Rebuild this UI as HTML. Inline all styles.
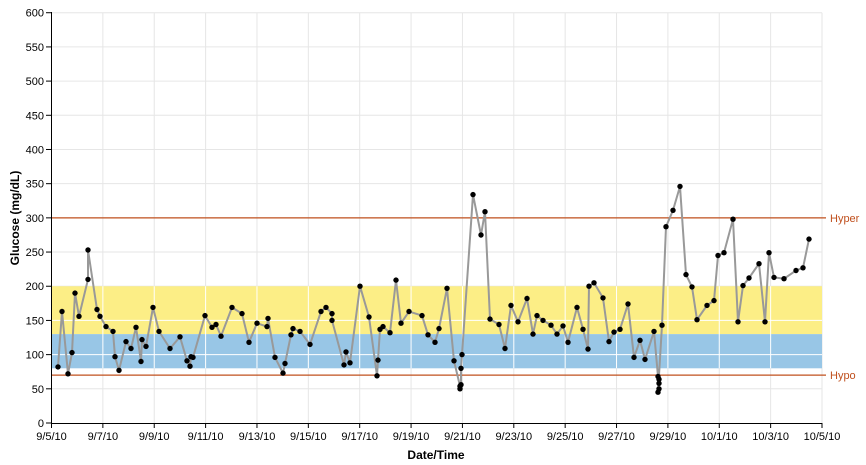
<!DOCTYPE html>
<html><head><meta charset="utf-8"><style>
body{margin:0;background:#fff;}
svg{display:block;font-family:"Liberation Sans",Arial,sans-serif;}
</style></head><body>
<svg id="s" width="866" height="465" xmlns="http://www.w3.org/2000/svg"></svg>
<script>
const s=document.getElementById('s');
const X0=51.5,X1=822,Y=v=>423-v*0.6838;
const dx=(X1-X0)/30;
let h='';
// grid
for(let v=50;v<=600;v+=50)h+=`<line x1="${X0}" x2="${X1}" y1="${Y(v)}" y2="${Y(v)}" stroke="#e6e6e6"/>`;
for(let d=2;d<=30;d+=2)h+=`<line x1="${X0+d*dx}" x2="${X0+d*dx}" y1="${Y(600)}" y2="423" stroke="#e6e6e6"/>`;
// bands
h+=`<rect x="${X0}" y="${Y(200)}" width="${X1-X0}" height="${Y(130)-Y(200)}" fill="#fcee86"/>`;
h+=`<rect x="${X0}" y="${Y(130)}" width="${X1-X0}" height="${Y(80)-Y(130)}" fill="#98c6e6"/>`;
// white grid over bands
for(let v of [100,150])h+=`<line x1="${X0}" x2="${X1}" y1="${Y(v)}" y2="${Y(v)}" stroke="#fff"/>`;
for(let d=2;d<30;d+=2)h+=`<line x1="${X0+d*dx}" x2="${X0+d*dx}" y1="${Y(200)}" y2="${Y(80)}" stroke="#fff"/>`;
// hyper/hypo
h+=`<line x1="${X0}" x2="826" y1="${Y(300)}" y2="${Y(300)}" stroke="#c0501e" stroke-width="1.2"/>`;
h+=`<line x1="${X0}" x2="826" y1="${Y(70)}" y2="${Y(70)}" stroke="#c0501e" stroke-width="1.2"/>`;
h+=`<text x="830" y="${Y(300)+4}" font-size="11" fill="#c0501e">Hyper</text>`;
h+=`<text x="830" y="${Y(70)+4}" font-size="11" fill="#c0501e">Hypo</text>`;
// axes
h+=`<line x1="${X0}" x2="${X0}" y1="12" y2="423.5" stroke="#000"/>`;
h+=`<line x1="${X0}" x2="${X1}" y1="423.5" y2="423.5" stroke="#000"/>`;
for(let v=0;v<=600;v+=50){h+=`<line x1="46" x2="${X0}" y1="${Y(v)}" y2="${Y(v)}" stroke="#000"/>`;h+=`<text x="44" y="${Y(v)+4}" font-size="11" text-anchor="end">${v}</text>`;}
const lab=['9/5/10','9/7/10','9/9/10','9/11/10','9/13/10','9/15/10','9/17/10','9/19/10','9/21/10','9/23/10','9/25/10','9/27/10','9/29/10','10/1/10','10/3/10','10/5/10'];
lab.forEach((l,i)=>{const x=X0+i*2*dx;h+=`<line x1="${x}" x2="${x}" y1="423" y2="428" stroke="#000"/><text x="${x}" y="440" font-size="11" text-anchor="middle">${l}</text>`;});
h+=`<text x="436" y="459" font-size="12" font-weight="bold" text-anchor="middle">Date/Time</text>`;
h+=`<text transform="translate(19,218) rotate(-90)" font-size="12" font-weight="bold" text-anchor="middle">Glucose (mg/dL)</text>`;
const p=[[58,82],[62,163],[68,72],[72,103],[75,190],[79,156],[88,210],[88,253],[97,166],[100,156],[106,141],[113,134],[115,97],[119,77],[126,119],[131,109],[136,140],[141,90],[142,122],[146,112],[153,169],[159,134],[170,109],[180,126],[187,91],[190,83],[191,97],[193,96],[205,157],[212,140],[216,144],[221,127],[232,169],[242,160],[249,118],[257,146],[267,141],[268,153],[275,96],[283,73],[285,87],[291,129],[293,138],[300,134],[310,115],[321,163],[326,169],[332,160],[332,150],[344,85],[346,104],[350,88],[360,200],[369,155],[377,69],[378,92],[380,137],[383,141],[390,132],[396,209],[401,146],[409,163],[422,157],[428,129],[435,118],[439,138],[447,197],[454,91],[460,54],[460,50],[461,56],[461,80],[462,100],[473,334],[481,275],[485,309],[490,152],[499,144],[505,109],[511,172],[518,148],[527,182],[533,130],[537,157],[543,150],[551,143],[557,130],[563,142],[568,118],[577,169],[583,137],[588,108],[589,200],[594,205],[603,183],[609,119],[614,133],[620,137],[628,174],[634,96],[640,121],[645,93],[654,134],[658,68],[659,64],[659,58],[659,50],[658,45],[662,143],[666,287],[673,311],[680,346],[686,217],[692,199],[697,151],[707,172],[714,179],[718,245],[724,249],[733,298],[738,148],[743,201],[749,212],[759,233],[765,148],[769,249],[774,213],[784,211],[796,223],[803,227],[809,269]];
h+=`<polyline fill="none" stroke="#999" stroke-width="2" points="${p.map(a=>a[0]+','+Y(a[1]).toFixed(1)).join(' ')}"/>`;
p.forEach(a=>h+=`<circle cx="${a[0]}" cy="${Y(a[1]).toFixed(1)}" r="2.7" fill="#000"/>`);
s.innerHTML=h;
</script>
</body></html>
